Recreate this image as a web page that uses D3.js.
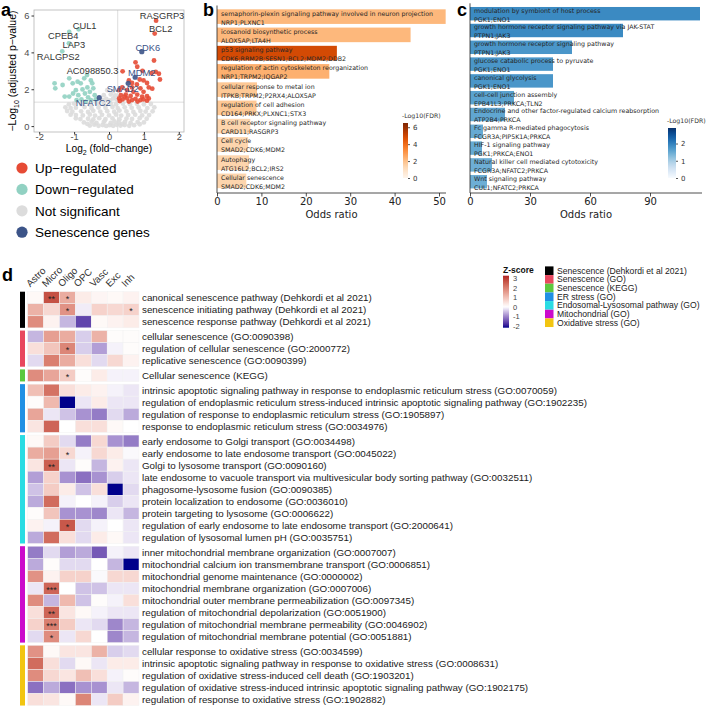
<!DOCTYPE html>
<html><head><meta charset="utf-8">
<script src="https://cdn.jsdelivr.net/npm/d3@7"></script>
<style>body{margin:0;background:#fff} svg{display:block}</style>
</head><body><svg id="c" width="708" height="708"></svg>
<script>
// ================= DATA =================
// ---- Panel a: volcano (log2FC, -log10 adj p)
const aUp = [[0.76,3.46],[1.29,3.56],[0.81,3.22],[0.39,2.97],[0.96,3.0],[1.34,2.94],[1.46,2.53],[1.43,2.84],[1.22,2.88],
  [0.88,2.53],[0.99,2.48],[0.66,2.34],[0.80,2.26],[1.09,2.34],[1.14,2.1],[0.90,2.05],[0.38,2.1],[0.29,1.95],[0.52,1.95],
  [0.70,1.86],[0.99,1.86],[0.34,1.68],[0.48,1.71],[0.62,1.64],[0.81,1.71],[0.95,1.6],[1.09,1.63],[0.29,1.5],[0.39,1.45],
  [0.52,1.5],[0.66,1.41],[0.76,1.48],[0.90,1.41],[1.09,1.38],[0.31,1.36],[0.57,1.33],[0.82,1.33],[0.99,1.45],[1.14,1.5],
  [0.45,1.6],[0.66,2.1],[0.57,2.48],[1.24,2.03],[1.35,5.72],[1.31,5.02]];
const aDown = [[-0.87,5.25],[-1.14,5.11],[-1.15,4.49],[-1.34,4.06],[-0.63,2.77],[-1.14,2.59],[-1.56,2.32],[-1.54,2.05],
  [-1.33,2.23],[-0.90,2.41],[-1.04,2.32],[-0.81,2.32],[-0.71,2.59],[-0.52,2.48],[-0.48,2.32],[-0.62,2.10],[-0.76,1.99],
  [-0.95,1.95],[-1.14,1.6],[-0.88,1.68],[-0.69,1.77],[-0.55,1.86],[-0.45,2.05],[-0.41,1.68],[-0.60,1.56],[-0.79,1.45],
  [-0.93,1.41],[-0.52,1.41],[-0.38,1.45],[-0.67,1.33],[-1.03,1.77],[-1.27,1.6]];
const aNs = [[-0.55,0.03],[-0.42,0.08],[-0.3,0.02],[-0.18,0.06],[-0.08,0.01],[0.02,0.05],[0.12,0.02],[0.22,0.07],[0.33,0.03],
  [0.45,0.06],[0.58,0.02],[0.72,0.05],[-0.72,0.2],[-0.5,0.24],[-0.36,0.18],[-0.15,0.22],[0.05,0.17],[0.16,0.25],[0.28,0.2],
  [0.46,0.23],[0.62,0.18],[0.82,0.22],[1.0,0.2],[-0.95,0.42],[-0.82,0.38],[-0.6,0.4],[-0.45,0.36],[-0.28,0.43],[-0.1,0.38],
  [0.1,0.42],[0.3,0.37],[0.5,0.41],[0.66,0.39],[0.88,0.43],[1.08,0.4],[-1.1,0.62],[-0.95,0.6],[-0.75,0.58],[-0.55,0.63],
  [-0.4,0.57],[-0.2,0.61],[0.0,0.58],[0.2,0.63],[0.35,0.57],[0.55,0.6],[0.75,0.62],[0.95,0.58],[1.15,0.6],[-1.2,0.82],
  [-1.05,0.78],[-0.8,0.8],[-0.6,0.77],[-0.45,0.83],[-0.25,0.79],[-0.05,0.81],[0.15,0.78],[0.3,0.84],[0.5,0.8],[0.7,0.77],
  [0.9,0.82],[1.05,0.79],[1.25,0.8],[-1.25,1.02],[-1.1,0.98],[-0.95,1.0],[-0.7,1.03],[-0.5,0.97],[-0.3,1.01],[-0.1,0.99],
  [0.1,1.03],[0.25,0.98],[0.45,1.02],[0.65,0.99],[0.85,1.01],[1.1,0.98],[1.3,1.02],[-1.15,1.18],[-1.0,1.22],[-0.8,1.2],
  [-0.55,1.17],[-0.35,1.23],[-0.15,1.19],[0.05,1.21],[0.2,1.18],[0.4,1.22],[0.6,1.19],[0.8,1.21],[1.0,1.18],[1.2,1.2],
  [-0.2,1.42],[-0.08,1.48],[0.03,1.4],[0.12,1.5],[0.22,1.44],[-0.15,1.68],[0.05,1.72],[0.18,1.66],[-0.05,1.95],[0.12,1.9],
  [-0.12,0.3],[0.38,0.12],[-0.62,0.12],[0.88,0.1]];
const aSen = [[0.94,4.04],[0.75,2.65],[0.55,2.32],[-0.28,1.54]];
const aLabelGenes = ["RASGRP3","BCL2","CDK6","MDM2","SMAD2","NFATC2","CUL1","CPEB4","LAP3","RALGPS2","AC098850.3"];
const aLabelX = [1.35,1.31,0.94,0.75,0.55,-0.28,-0.87,-1.14,-1.15,-1.34,-0.63];
const aLabelY = [5.72,5.02,4.04,2.65,2.32,1.54,5.25,5.11,4.49,4.06,2.77];
const aLabelIsSen = [false,false,true,true,true,true,false,false,false,false,false];
const aXTicks = [-2,-1,0,1,2];
const aYTicks = [0,2,4,6];
const aPThresh = 1.3, aFcThresh = 0.25;
const aLegend = ["Up\u2212regulated","Down\u2212regulated","Not significant","Senescence genes"];

// ---- Panel b: enrichment (up genes)
const bTerms = ["semaphorin-plexin signaling pathway involved in neuron projection","icosanoid biosynthetic process",
  "p53 signaling pathway","regulation of actin cytoskeleton reorganization","cellular response to metal ion",
  "regulation of cell adhesion","B cell receptor signaling pathway","Cell cycle","Autophagy","Cellular senescence"];
const bGenes = ["NRP1;PLXNC1","ALOX5AP;LTA4H","CDK6;RRM2B;SESN1;BCL2;MDM2;DDB2","NRP1;TRPM2;IQGAP2",
  "ITPKB;TRPM2;P2RX4;ALOX5AP","CD164;PRKX;PLXNC1;STX3","CARD11;RASGRP3","SMAD2;CDK6;MDM2","ATG16L2;BCL2;IRS2","SMAD2;CDK6;MDM2"];
const bOdds = [51.5,43.6,27.0,25.3,9.0,8.9,7.5,7.0,7.2,6.6];
const bFdr = [2.2,2.2,4.9,2.4,1.8,1.8,1.4,1.4,1.4,1.4];
const bTicks = [0,10,20,30,40,50];
const bFdrTicks = [0,2,4,6];

// ---- Panel c: enrichment (down genes)
const cTerms = ["modulation by symbiont of host process","growth hormone receptor signaling pathway via JAK-STAT",
  "growth hormone receptor signaling pathway","glucose catabolic process to pyruvate","canonical glycolysis",
  "cell-cell junction assembly","Endocrine and other factor-regulated calcium reabsorption","Fc gamma R-mediated phagocytosis",
  "HIF-1 signaling pathway","Natural killer cell mediated cytotoxicity","Wnt signaling pathway"];
const cGenes = ["PGK1;ENO1","PTPN1;JAK3","PTPN1;JAK3","PGK1;ENO1","PGK1;ENO1","EPB41L3;PRKCA;TLN2","ATP2B4;PRKCA",
  "FCGR3A;PIP5K1A;PRKCA","PGK1;PRKCA;ENO1","FCGR3A;NFATC2;PRKCA","CUL1;NFATC2;PRKCA"];
const cOdds = [115,76.5,51,41.5,41.5,22,17.5,6.5,6,11,8.5];
const cFdr = [1.9,1.9,1.75,1.75,1.75,1.6,1.55,1.5,1.5,1.45,1.45];
const cTicks = [0,30,60,90];
const cFdrTicks = [0,1,2];

// ---- Panel d: heatmap
const dCols = ["Astro","Micro","Oligo","OPC","Vasc","Exc","Inh"];
const dGroups = ["Senescence (Dehkordi et al 2021)","Senescence (GO)","Senescence (KEGG)","ER stress (GO)",
  "Endosomal-Lysosomal pathway (GO)","Mitochondrial (GO)","Oxidative stress (GO)"];
const dGroupColors = ["#000000","#E8475E","#5CC83E","#2090E4","#2ADCE3","#CB0BCB","#F2C511"];
const dRows = ["canonical senescence pathway (Dehkordi et al 2021)","senescence initiating pathway (Dehkordi et al 2021)",
  "senescence response pathway (Dehkordi et al 2021)","cellular senescence (GO:0090398)",
  "regulation of cellular senescence (GO:2000772)","replicative senescence (GO:0090399)","Cellular senescence (KEGG)",
  "intrinsic apoptotic signaling pathway in response to endoplasmic reticulum stress (GO:0070059)",
  "regulation of endoplasmic reticulum stress-induced intrinsic apoptotic signaling pathway (GO:1902235)",
  "regulation of response to endoplasmic reticulum stress (GO:1905897)","response to endoplasmic reticulum stress (GO:0034976)",
  "early endosome to Golgi transport (GO:0034498)","early endosome to late endosome transport (GO:0045022)",
  "Golgi to lysosome transport (GO:0090160)",
  "late endosome to vacuole transport via multivesicular body sorting pathway (GO:0032511)",
  "phagosome-lysosome fusion (GO:0090385)","protein localization to endosome (GO:0036010)",
  "protein targeting to lysosome (GO:0006622)","regulation of early endosome to late endosome transport (GO:2000641)",
  "regulation of lysosomal lumen pH (GO:0035751)","inner mitochondrial membrane organization (GO:0007007)",
  "mitochondrial calcium ion transmembrane transport (GO:0006851)","mitochondrial genome maintenance (GO:0000002)",
  "mitochondrial membrane organization (GO:0007006)","mitochondrial outer membrane permeabilization (GO:0097345)",
  "regulation of mitochondrial depolarization (GO:0051900)","regulation of mitochondrial membrane permeability (GO:0046902)",
  "regulation of mitochondrial membrane potential (GO:0051881)","cellular response to oxidative stress (GO:0034599)",
  "intrinsic apoptotic signaling pathway in response to oxidative stress (GO:0008631)",
  "regulation of oxidative stress-induced cell death (GO:1903201)",
  "regulation of oxidative stress-induced intrinsic apoptotic signaling pathway (GO:1902175)",
  "regulation of response to oxidative stress (GO:1902882)"];
const dRowGroup = [0,0,0,1,1,1,2,3,3,3,3,4,4,4,4,4,4,4,4,4,5,5,5,5,5,5,5,5,6,6,6,6,6];
const dZ = [
  [0.1,2.7,1.3,0.3,0.15,0.1,0.2],
  [1.2,0.6,1.7,-0.15,0.7,0.6,0.7],
  [1.8,0.2,-0.6,-1.6,0.1,0.2,0.3],
  [-0.6,1.5,1.3,-0.4,1.2,0.05,0.05],
  [0.5,0.9,1.9,-0.4,-0.8,-0.1,0.05],
  [-0.3,2.0,1.3,0.5,-0.3,0.6,0.2],
  [1.8,1.4,0.8,0.05,0.3,-0.1,-0.1],
  [1.0,2.2,0.5,0.3,0.2,-0.1,-0.2],
  [0.05,1.1,-2.2,-0.2,0.3,-0.2,-0.2],
  [1.4,-0.2,-0.5,-0.9,-1.1,-0.3,-0.7],
  [0.4,2.4,0.0,0.5,0.5,0.1,0.0],
  [0.1,0.8,-0.3,-1.1,0.6,-0.9,-1.1],
  [1.3,1.5,0.6,-0.1,0.6,0.3,-0.05],
  [0.4,2.5,-0.2,0.05,-0.6,0.2,-0.2],
  [-0.8,0.7,-0.9,-1.2,-0.9,-0.4,-0.2],
  [-0.5,0.8,0.3,-0.5,0.5,-2.3,-0.3],
  [-0.7,2.3,-0.1,0.0,-0.1,-0.4,-0.2],
  [0.05,0.9,-0.9,-0.9,-1.0,-0.2,-0.6],
  [0.2,-0.1,2.6,-0.3,-0.1,0.0,-0.2],
  [-0.7,2.3,0.5,-0.3,0.3,0.1,-0.2],
  [-1.1,-0.3,-0.8,-0.7,-1.4,-0.1,-0.2],
  [-0.7,0.05,-0.3,-0.3,0.0,-0.6,-2.4],
  [1.7,0.2,0.7,0.7,-0.05,0.6,0.6],
  [-0.2,2.4,0.0,-0.5,-0.5,-0.2,-0.2],
  [1.8,-0.6,1.1,-0.5,0.05,-0.1,0.5],
  [0.5,2.4,0.4,0.1,-0.1,-0.2,-0.2],
  [0.7,2.0,0.8,-0.2,-0.3,-1.0,-0.6],
  [-0.3,1.8,-0.2,0.6,0.0,-1.0,-0.6],
  [1.7,0.1,0.4,0.4,1.2,-0.4,-0.3],
  [2.3,0.5,-0.3,0.1,-0.2,0.3,0.3],
  [1.8,0.6,0.4,1.0,0.5,-0.1,0.05],
  [-1.2,-0.7,-1.2,-0.9,-0.9,-0.2,-0.6],
  [0.5,0.4,0.1,1.9,-0.2,0.8,0.2]];
const dStarRow = [0,0,1,1,4,6,12,13,18,23,25,26,27];
const dStarCol = [1,2,2,6,2,2,2,1,2,1,1,1,1];
const dStarText = ["**","*","*","*","*","*","*","**","*","***","**","***","*"];
const dLegendTicks = [3,2,1,0,-1,-2];

// ================= DRAW =================
const svg = d3.select("#c");
svg.append("rect").attr("width",708).attr("height",708).attr("fill","#fff");
const SANS = "'Liberation Sans', Arial, Helvetica, sans-serif";
const DJV = "'DejaVu Sans', Verdana, sans-serif";

function panelLabel(t,x,y){svg.append("text").attr("x",x).attr("y",y).text(t)
  .attr("font-family",SANS).attr("font-weight","bold").attr("font-size",18).attr("fill","#000");}
panelLabel("a",1,16); panelLabel("b",203,16); panelLabel("c",457,16); panelLabel("d",2,281);

// ---------- Panel a ----------
const xA = d3.scaleLinear().domain([-2.15,2.15]).range([34,184]);
const yA = d3.scaleLinear().domain([-0.32,6.3]).range([132,10]);
const gA = svg.append("g");
gA.append("line").attr("x1",34).attr("x2",184).attr("y1",yA(aPThresh)).attr("y2",yA(aPThresh))
  .attr("stroke","#cfcfcf").attr("stroke-width",0.7);
gA.append("line").attr("x1",xA(aFcThresh)).attr("x2",xA(aFcThresh)).attr("y1",10).attr("y2",132)
  .attr("stroke","#cfcfcf").attr("stroke-width",0.7);
const COL_UP="#E64B35", COL_DOWN="#91D1C2", COL_NS="#DCDCDC", COL_SEN="#3C5488";
function pts(data,col,r){gA.append("g").selectAll("circle").data(data).join("circle")
  .attr("cx",d=>xA(d[0])).attr("cy",d=>yA(d[1])).attr("r",r).attr("fill",col).attr("fill-opacity",0.9);}
pts(aNs,COL_NS,2.4); pts(aDown,COL_DOWN,2.4); pts(aUp,COL_UP,2.4); pts(aSen,COL_SEN,2.6);
gA.append("rect").attr("x",34).attr("y",10).attr("width",150).attr("height",122)
  .attr("fill","none").attr("stroke","#b5b5b5").attr("stroke-width",0.8);
const labelDx = [6,6,6,6.5,-5.5,-6,6,-6,5,-4,5.5];
const labelDy = [-5,-4.5,-4,-5,5,5,-4,4,1,5.5,-4.5];
aLabelGenes.forEach((g,i)=>{
  gA.append("text").attr("x",xA(aLabelX[i])+labelDx[i]).attr("y",yA(aLabelY[i])+labelDy[i]+3.3)
    .attr("text-anchor","middle").attr("font-family",SANS).attr("font-size",9.3)
    .attr("fill",aLabelIsSen[i]?"#3C5488":"#333333").text(g);
});
const axA = gA.append("g").attr("transform","translate(0,132)")
  .call(d3.axisBottom(xA).tickValues(aXTicks).tickSize(2.5).tickFormat(d=>String(d)));
axA.selectAll("text").attr("y",7.6).attr("dy",null);
const ayA = gA.append("g").attr("transform","translate(34,0)")
  .call(d3.axisLeft(yA).tickValues(aYTicks).tickSize(2.5).tickPadding(2).tickFormat(d=>String(d)));
[axA,ayA].forEach(a=>{a.select(".domain").remove();
  a.selectAll("line").attr("stroke","#333");
  a.selectAll("text").attr("font-family",SANS).attr("font-size",9.3).attr("fill","#4d4d4d");});
const xt = gA.append("text").attr("x",109).attr("y",152).attr("text-anchor","middle")
  .attr("font-family",SANS).attr("font-size",10.2).attr("fill","#000");
xt.append("tspan").text("Log");
xt.append("tspan").attr("font-size",7).attr("dy",2.5).text("2");
xt.append("tspan").attr("dy",-2.5).text(" (fold\u2212change)");
const yt = gA.append("text").attr("transform","translate(16,71) rotate(-90)").attr("text-anchor","middle")
  .attr("font-family",SANS).attr("font-size",10.5).attr("fill","#000");
yt.append("tspan").text("\u2212Log");
yt.append("tspan").attr("font-size",7).attr("dy",2.5).text("10");
yt.append("tspan").attr("dy",-2.5).text(" (adjusted p\u2212value)");
const legCols=[COL_UP,COL_DOWN,COL_NS,COL_SEN];
aLegend.forEach((t,i)=>{
  const cy = 168 + i*21.4;
  gA.append("circle").attr("cx",22).attr("cy",cy).attr("r",5.6).attr("fill",legCols[i]);
  gA.append("text").attr("x",35).attr("y",cy+4.8).attr("font-family",SANS).attr("font-size",13.5)
    .attr("fill","#000").text(t);
});

// ---------- Panels b & c ----------
function enrichPanel(opt){
  const g = svg.append("g");
  const x = d3.scaleLinear().domain([0,opt.xmax]).range([opt.x0,opt.x1]);
  const y = d3.scaleBand().domain(opt.terms.map((t,i)=>i)).range([opt.y0,opt.y1]).paddingInner(0.2).paddingOuter(0.1);
  const col = v=>opt.interp(v/opt.fmax);
  g.selectAll("rect.bar").data(opt.odds).join("rect").attr("class","bar")
    .attr("x",x(0)).attr("y",(d,i)=>y(i)).attr("width",d=>x(d)-x(0)).attr("height",y.bandwidth())
    .attr("fill",(d,i)=>col(opt.fdr[i]));
  opt.terms.forEach((t,i)=>{
    g.append("text").attr("x",x(0)+4).attr("y",y(i)+opt.tOff).attr("font-family",DJV).attr("font-size",opt.fs)
      .attr("fill","#262626").text(t);
    g.append("text").attr("x",x(0)+4).attr("y",y(i)+opt.gOff).attr("font-family",DJV).attr("font-size",opt.fs)
      .attr("fill","#262626").text(opt.genes[i]);
  });
  g.append("line").attr("x1",x(0)).attr("x2",x(0)).attr("y1",opt.y0-2).attr("y2",193).attr("stroke","#222").attr("stroke-width",0.8);
  const ax = g.append("g").attr("transform","translate(0,193)")
    .call(d3.axisBottom(x).tickValues(opt.ticks).tickSize(3.5).tickPadding(1.5).tickFormat(d=>String(d)));
  ax.select(".domain").attr("d",`M${x(0)},0H${opt.spineEnd}`).attr("stroke","#222").attr("stroke-width",0.8);
  ax.selectAll(".tick line").attr("stroke","#222").attr("stroke-width",0.8);
  ax.selectAll("text").attr("font-family",DJV).attr("font-size",10).attr("fill","#222");
  g.append("text").attr("x",(x(0)+opt.spineEnd)/2).attr("y",217.5).attr("text-anchor","middle")
    .attr("font-family",DJV).attr("font-size",10).attr("fill","#222").text("Odds ratio");
  const id = "grad"+opt.name;
  const grad = svg.append("defs").append("linearGradient").attr("id",id).attr("x1",0).attr("x2",0).attr("y1",1).attr("y2",0);
  d3.range(0,1.0001,0.1).forEach(s=>grad.append("stop").attr("offset",s).attr("stop-color",opt.interp(s)));
  const cy = d3.scaleLinear().domain([0,opt.fmax]).range([opt.cbBottom,opt.cbTop]);
  g.append("rect").attr("x",opt.cbX).attr("y",opt.cbTop).attr("width",opt.cbW).attr("height",opt.cbBottom-opt.cbTop)
    .attr("fill",`url(#${id})`);
  const cax = g.append("g").attr("transform",`translate(${opt.cbX+opt.cbW},0)`)
    .call(d3.axisRight(cy).tickValues(opt.fticks).tickSize(2).tickPadding(3).tickFormat(d=>String(d)));
  cax.select(".domain").remove();
  cax.selectAll("line").attr("stroke","#555");
  cax.selectAll("text").attr("font-family",DJV).attr("font-size",7).attr("fill","#333");
  g.append("text").attr("x",opt.cbX-1).attr("y",opt.cbTop-5).attr("font-family",DJV).attr("font-size",6.2)
    .attr("fill","#333").text("-Log10(FDR)");
}
enrichPanel({name:"b",terms:bTerms,genes:bGenes,odds:bOdds,fdr:bFdr,ticks:bTicks,fticks:bFdrTicks,
  xmax:50,x0:217,x1:439,spineEnd:446,y0:7.5,y1:190,tOff:6.3,gOff:15.3,fs:6.3,
  interp:d3.interpolateOranges,fmax:6.5,cbX:403,cbW:5,cbTop:123,cbBottom:178});
enrichPanel({name:"c",terms:cTerms,genes:cGenes,odds:cOdds,fdr:cFdr,ticks:cTicks,fticks:cFdrTicks,
  xmax:90,x0:470,x1:650,spineEnd:702,y0:5.3,y1:190.1,tOff:5.6,gOff:14.6,fs:6.3,
  interp:d3.interpolateBlues,fmax:2.9,cbX:668,cbW:8,cbTop:128,cbBottom:178});

// ---------- Panel d ----------
const gD = svg.append("g");
const xD = d3.scaleBand().domain(dCols).range([27.7,139]);
const rowH = 12.05, gapH = 2.7, yStart = 291.7;
const rowY = dRows.map((r,i)=>yStart + i*rowH + dRowGroup[i]*gapH);
const zCol = d3.scaleLinear().domain([-2.2,0,3.27]).range(["#00008B","#FFFFFF","#B22222"]).interpolate(d3.interpolateLab).clamp(true);
dZ.forEach((row,i)=>{
  row.forEach((v,j)=>{
    gD.append("rect").attr("x",xD(dCols[j])).attr("y",rowY[i]).attr("width",xD.bandwidth()).attr("height",rowH)
      .attr("fill",zCol(v)).attr("stroke","#f2f2f2").attr("stroke-width",0.5);
  });
  gD.append("text").attr("x",142).attr("y",rowY[i]+rowH/2+3.6).attr("font-family",SANS).attr("font-size",9.8)
    .attr("fill","#1a1a1a").text(dRows[i]);
});
dStarRow.forEach((r,k)=>{
  gD.append("text").attr("x",xD(dCols[dStarCol[k]])+xD.bandwidth()/2).attr("y",rowY[r]+rowH/2+4.6)
    .attr("text-anchor","middle").attr("font-family",SANS).attr("font-size",9).attr("fill","#222").text(dStarText[k]);
});
dGroups.forEach((gname,gi)=>{
  const idx = dRowGroup.map((g,i)=>g===gi?i:-1).filter(i=>i>=0);
  const top = rowY[idx[0]], bot = rowY[idx[idx.length-1]]+rowH;
  gD.append("rect").attr("x",20).attr("y",top).attr("width",5).attr("height",bot-top).attr("fill",dGroupColors[gi]);
});
dCols.forEach(c=>{
  const cx = xD(c)+xD.bandwidth()/2;
  gD.append("text").attr("transform",`translate(${cx-5.5},${287.5}) rotate(-45)`).attr("font-family",SANS)
    .attr("font-size",9.8).attr("fill","#333").text(c);
});
gD.append("text").attr("x",503).attr("y",273).attr("font-family",SANS).attr("font-weight","bold")
  .attr("font-size",8.5).attr("fill","#111").text("Z-score");
const zy = d3.scaleLinear().domain([-2.2,3.27]).range([327.7,275.7]);
const zg = svg.append("defs").append("linearGradient").attr("id","zgrad").attr("x1",0).attr("x2",0).attr("y1",1).attr("y2",0);
d3.range(0,1.0001,0.05).forEach(s=>zg.append("stop").attr("offset",s).attr("stop-color",zCol(-2.2+s*5.47)));
gD.append("rect").attr("x",503).attr("y",275.7).attr("width",6).attr("height",52).attr("fill","url(#zgrad)");
const zax = gD.append("g").attr("transform","translate(509,0)")
  .call(d3.axisRight(zy).tickValues(dLegendTicks).tickSize(0).tickPadding(4).tickFormat(d=>String(d)));
zax.select(".domain").remove();
zax.selectAll("text").attr("font-family",SANS).attr("font-size",7.5).attr("fill","#444");
dGroups.forEach((gname,i)=>{
  const cy = 270.7 + i*8.67;
  gD.append("rect").attr("x",545).attr("y",cy-4.3).attr("width",8.5).attr("height",8.6).attr("fill",dGroupColors[i]);
  gD.append("text").attr("x",557).attr("y",cy+3.1).attr("font-family",SANS).attr("font-size",8.6)
    .attr("fill","#222").text(gname);
});
</script></body></html>
